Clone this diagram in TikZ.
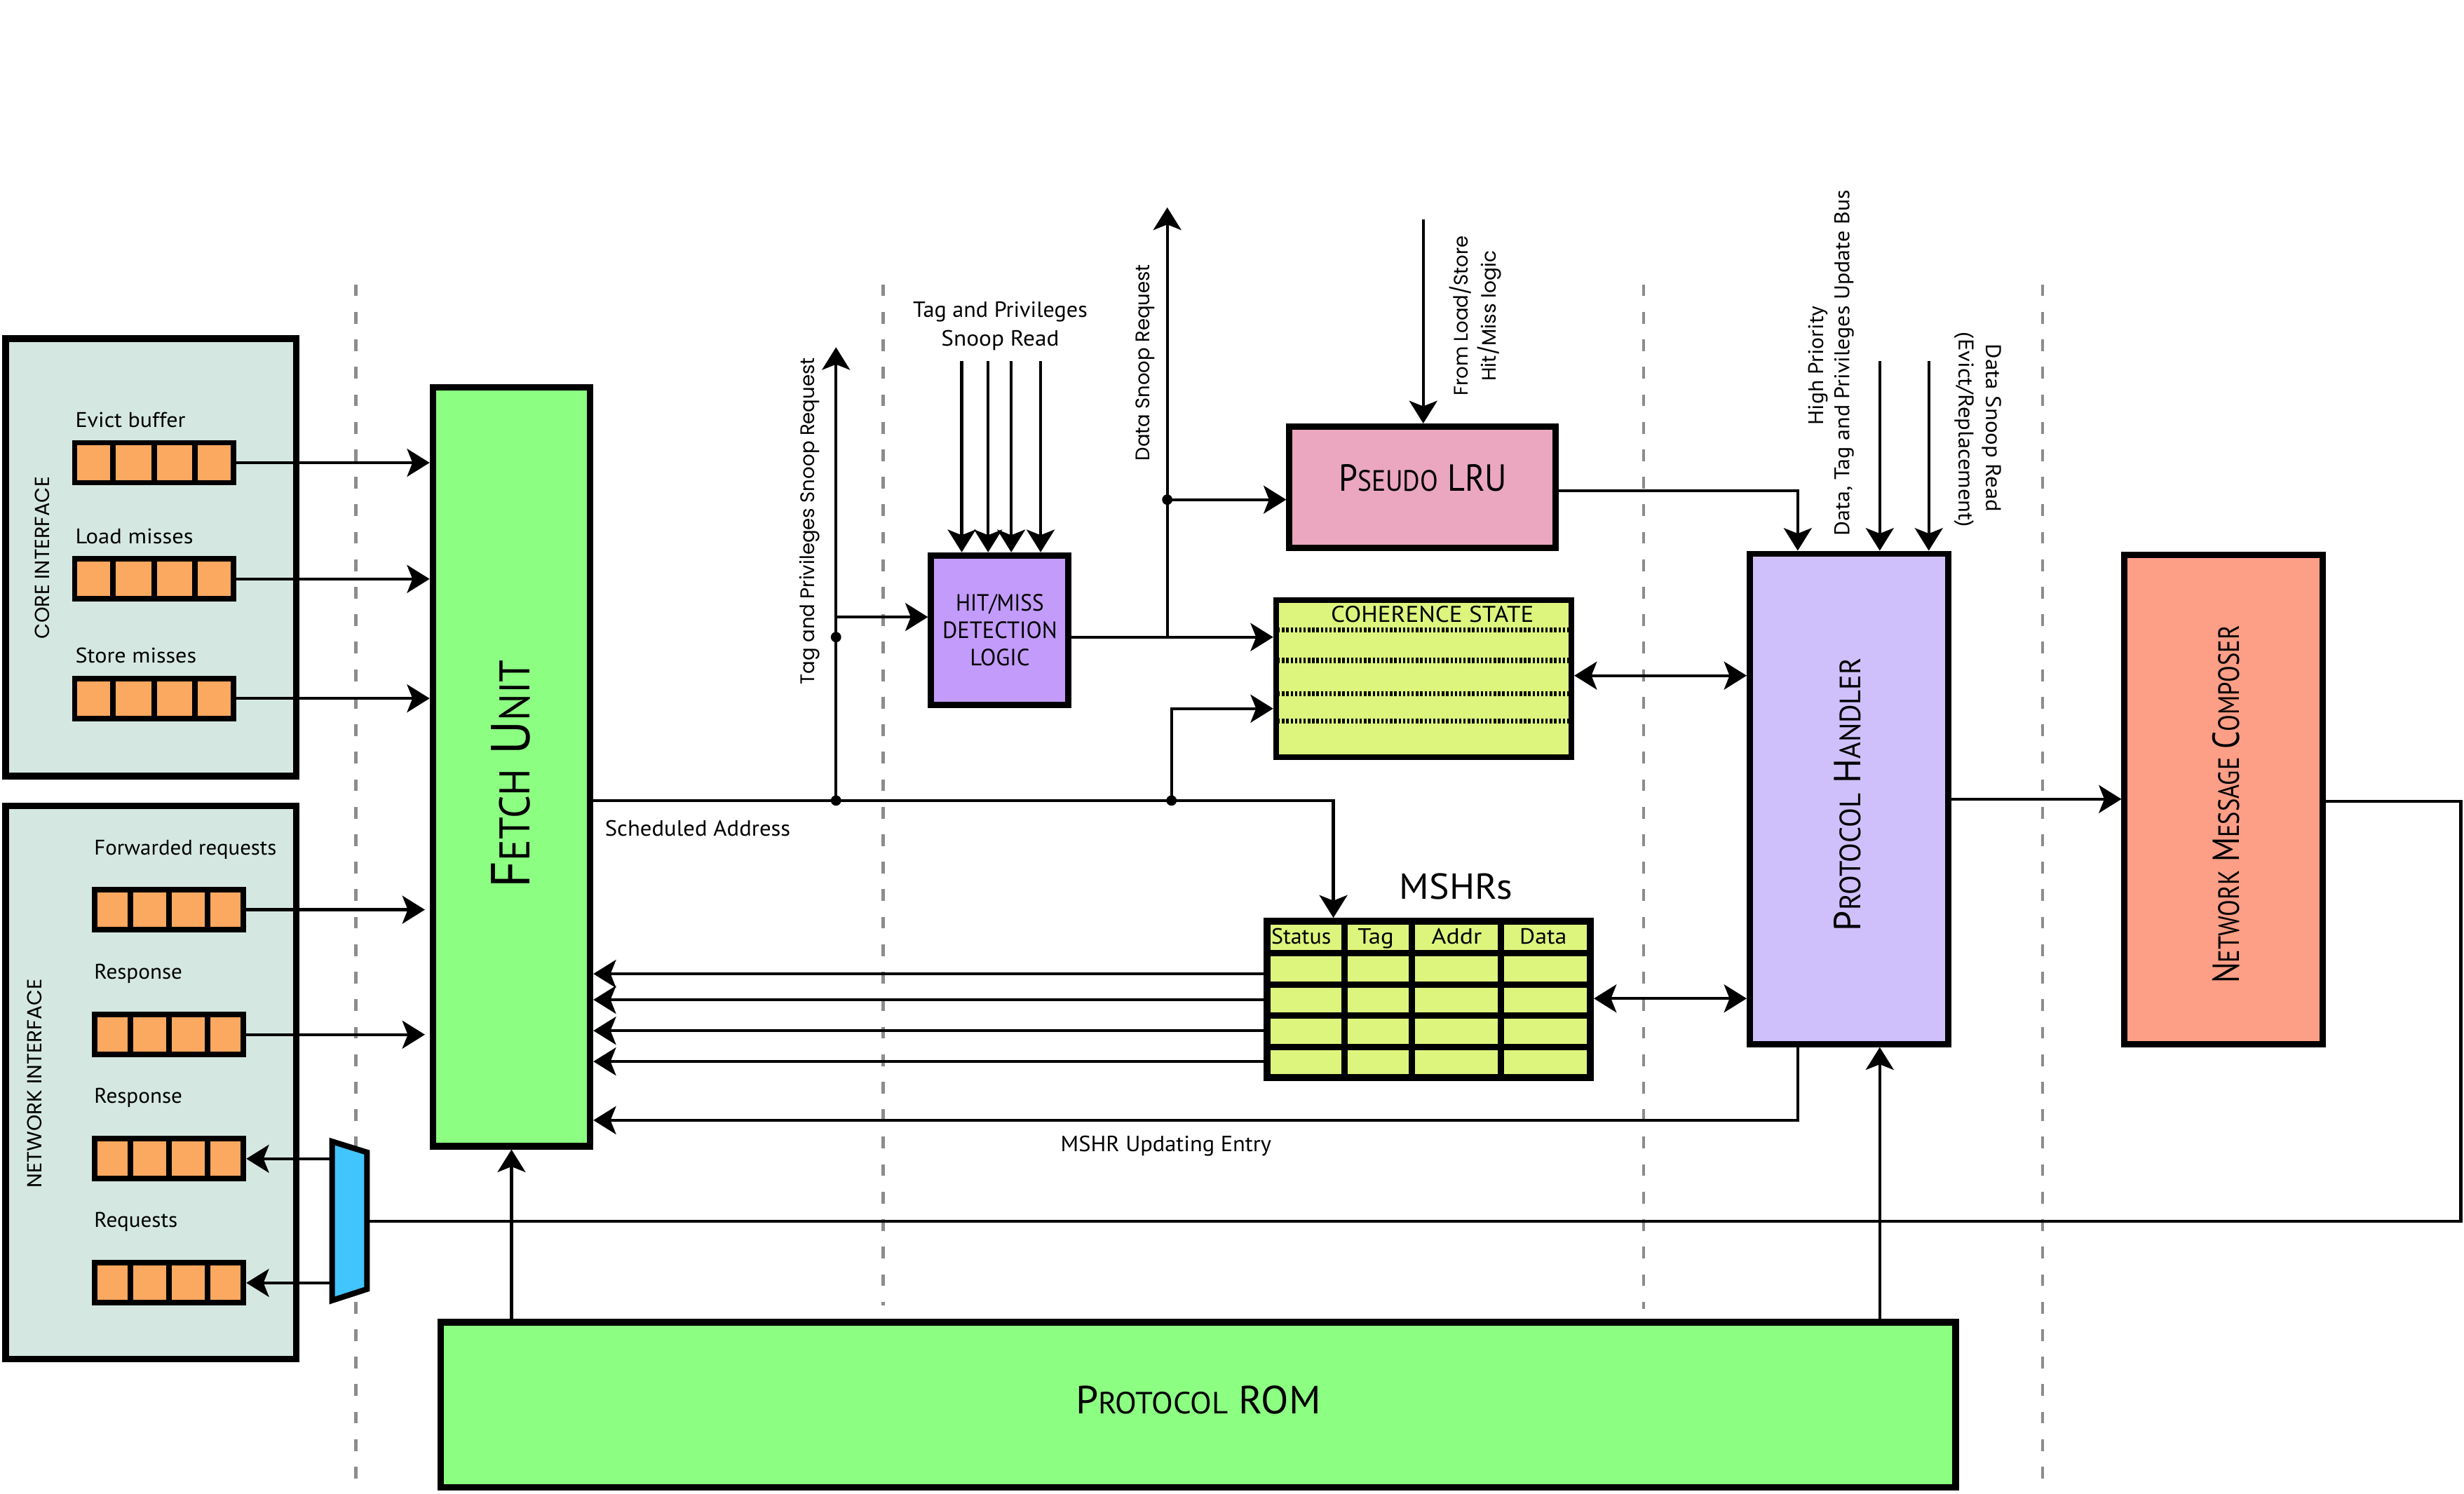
\documentclass[tikz,border=0pt]{standalone}
\usepackage{fontspec}
\setmainfont{PT Sans}
\newfontfamily\geo{Poppins}
\usetikzlibrary{arrows.meta,calc}
\definecolor{ifbg}{HTML}{D5E7E1}
\definecolor{qorange}{HTML}{FBA860}
\definecolor{fgreen}{HTML}{8CFE82}
\definecolor{hmpurple}{HTML}{C39BFB}
\definecolor{lrupink}{HTML}{EAA7BF}
\definecolor{cyellow}{HTML}{DDF47D}
\definecolor{phlav}{HTML}{CFC0FB}
\definecolor{nmcsalmon}{HTML}{FD9E86}
\definecolor{muxblue}{HTML}{42C4FC}
\definecolor{dashgray}{HTML}{8C8C8C}
\newcommand\tw[2]{\resizebox{#1pt}{\height}{#2}}
\newcommand\smc[2]{#1\scalebox{0.78}{#2}}
\newcommand\fs[1]{\fontsize{#1}{#1}\selectfont}
\begin{document}
\begin{tikzpicture}[x=1pt,y=-1pt,
  box/.style={draw, inner sep=0pt},
  queue/.style={draw, line width=3.5pt, fill=qorange, inner sep=0pt},
  txt/.style={inner sep=0pt, outer sep=0pt},
  conn/.style={line width=1.9pt},
  arr/.style={conn, -{Stealth[length=14.4pt,width=17.8pt,inset=3.5pt]}},
  darr/.style={conn, {Stealth[length=14.4pt,width=17.8pt,inset=3.5pt]}-{Stealth[length=14.4pt,width=17.8pt,inset=3.5pt]}},
  dashline/.style={draw=dashgray, line width=2pt, dash pattern=on 7.5pt off 10pt},
  dotrow/.style={line width=3.3pt, dash pattern=on 1.5pt off 1.25pt},
  grid/.style={line width=4pt}]
\useasboundingbox (0,0) rectangle (1568,950.5);

% dashed separators
\foreach \xx/\yb in {226.5/945, 562/831, 1046/833, 1299.7/945}
  \draw[dashline] (\xx,181) -- (\xx,\yb);

% interface boxes
\node[box, fill=ifbg, line width=4.2pt, minimum width=185pt, minimum height=278.5pt] (core) at (96,354.75) {};
\node[box, fill=ifbg, line width=4.2pt, minimum width=185pt, minimum height=352pt] (net) at (96,689) {};

% queues
\node[queue, minimum width=101pt, minimum height=25.4pt] (qev) at (98,294.5) {};
\node[queue, minimum width=101pt, minimum height=25.4pt] (qld) at (98,368.5) {};
\node[queue, minimum width=101pt, minimum height=25.4pt] (qst) at (98,444.5) {};
\node[queue, minimum width=94.8pt, minimum height=25.4pt] (qfw) at (107.6,579) {};
\node[queue, minimum width=94.8pt, minimum height=25.4pt] (qr1) at (107.6,658.5) {};
\node[queue, minimum width=94.8pt, minimum height=25.4pt] (qr2) at (107.6,737.5) {};
\node[queue, minimum width=94.8pt, minimum height=25.4pt] (qrq) at (107.6,816.5) {};
\foreach \q in {qev,qld,qst,qfw,qr1,qr2,qrq}
  \foreach \f in {0.25,0.5,0.75}
    \draw[line width=3.5pt] ($(\q.north west)!\f!(\q.north east)$) -- ($(\q.south west)!\f!(\q.south east)$);

% main blocks
\node[box, fill=fgreen, line width=4.2pt, minimum width=100pt, minimum height=483pt] (fetch) at (325.5,488) {};
\node[box, fill=fgreen, line width=4.2pt, minimum width=964pt, minimum height=105pt] (rom) at (762.5,894) {};
\node[box, fill=hmpurple, line width=4pt, minimum width=87.5pt, minimum height=95pt, align=center, font=\fontsize{15}{17.5}\selectfont] (hm) at (636.25,401)
  {\tw{56}{HIT/MISS}\\\tw{73}{DETECTION}\\\tw{38}{LOGIC}};
\node[box, fill=lrupink, line width=4pt, minimum width=169.5pt, minimum height=77pt] (lru) at (905.25,310) {};
\node[box, fill=cyellow, line width=3.6pt, minimum width=188pt, minimum height=100pt] (coh) at (906,432) {};
\node[box, fill=phlav, line width=4pt, minimum width=126.5pt, minimum height=312pt] (ph) at (1176.75,508.5) {};
\node[box, fill=nmcsalmon, line width=4pt, minimum width=126pt, minimum height=311.5pt] (nmc) at (1415,508.75) {};
\node[box, fill=cyellow, line width=4.5pt, minimum width=205.6pt, minimum height=99.6pt] (mshr) at (909.2,636.2) {};
\foreach \xx in {855.4,898.6,955.3} \draw[grid] (\xx,586.4) -- (\xx,686);
\foreach \yy in {606.5,626.5,646.3,666.4} \draw[grid] (806.4,\yy) -- (1012,\yy);

% coherence state rows
\foreach \yy in {401,420.4,441.5,459} \draw[dotrow] (813,\yy) -- (998,\yy);

% mux
\draw[line width=3.6pt, fill=muxblue, line join=miter] (211.3,726.5) -- (233.5,733.4) -- (233.5,820.5) -- (211.3,827.7) -- cycle;
\coordinate (muxR) at (235.3,777.3);
\coordinate (muxL) at (209.5,777.3);

% connectors: queues to fetch
\draw[arr] (qev.east) -- (qev.east -| fetch.west);
\draw[arr] (qld.east) -- (qld.east -| fetch.west);
\draw[arr] (qst.east) -- (qst.east -| fetch.west);
\draw[arr, shorten >=3pt] (qfw.east) -- (qfw.east -| fetch.west);
\draw[arr, shorten >=3pt] (qr1.east) -- (qr1.east -| fetch.west);
\draw[arr] (qr2.east -| muxL) -- (qr2.east);
\draw[arr] (qrq.east -| muxL) -- (qrq.east);

% ROM connections
\draw[arr] (fetch.south |- rom.north) -- (fetch.south);
\draw[arr] (rom.north -| 1196.2,0) -- (ph.south -| 1196.2,0);

% MSHR updating entry
\draw[arr] (ph.south -| 1144,0) -- (1144,713) -- (fetch.east |- 0,713);
\foreach \yy in {619.8,636.3,656,675.6}
  \draw[arr] (mshr.west |- 0,\yy) -- (fetch.east |- 0,\yy);
\draw[darr] (mshr.east |- 0,635.5) -- (ph.west |- 0,635.5);

% scheduled address
\draw[arr] (fetch.east |- 0,509.5) -- (848.5,509.5) -- (mshr.north -| 848.5,0);
\coordinate (tpsr) at (532,221);
\draw[arr] (532,509.5) -- (tpsr);
\draw[arr] (532,392.7) -- (hm.west |- 0,392.7);
\fill (532,509.5) circle[radius=3.3pt];
\fill (532,405.5) circle[radius=3.3pt];
\draw[arr] (745.5,509.5) -- (745.5,451) -- (coh.west |- 0,451);
\fill (745.5,509.5) circle[radius=3.3pt];

% snoop read inputs
\foreach \xx in {612,628.8,643.5,662.2}
  \draw[arr] (\xx,230) -- (hm.north -| \xx,0);

% hit/miss output and data snoop
\draw[arr] (hm.east |- 0,405.5) -- (coh.west |- 0,405.5);
\coordinate (dsr) at (742.8,132);
\draw[arr] (742.8,405.5) -- (dsr);
\draw[arr] (742.8,318) -- (lru.west |- 0,318);
\fill (742.8,318) circle[radius=3.3pt];

% pseudo LRU
\coordinate (fls) at (905.7,139.5);
\draw[arr] (fls) -- (lru.north -| fls);
\draw[arr] (lru.east |- 0,312.4) -- (1144,312.4) -- (ph.north -| 1144,0);

% protocol handler inputs
\coordinate (hpin) at (1196.2,229.8);
\coordinate (dsin) at (1227.4,229.8);
\draw[arr] (hpin) -- (ph.north -| hpin);
\draw[arr] (dsin) -- (ph.north -| dsin);
\draw[darr] (coh.east |- 0,430) -- (ph.west |- 0,430);
\draw[arr] (ph.east |- 0,508.6) -- (nmc.west |- 0,508.6);
\draw[conn] (nmc.east |- 0,510) -- (1566,510) -- (1566,777.3) -- (muxR);

% labels
\node[txt, anchor=base west, font=\fs{13.5}] (lev) at (48,272) {\tw{70}{Evict buffer}};
\node[txt, anchor=base west, font=\fs{13.5}] (lld) at (48,346) {\tw{75}{Load misses}};
\node[txt, anchor=base west, font=\fs{13.5}] (lst) at (48,422) {\tw{77}{Store misses}};
\node[txt, anchor=base west, font=\fs{13.5}] (lfw) at (60,544) {\tw{116}{Forwarded requests}};
\node[txt, anchor=base west, font=\fs{13.5}] (lr1) at (60,623) {\tw{56}{Response}};
\node[txt, anchor=base west, font=\fs{13.5}] (lr2) at (60,702) {\tw{56}{Response}};
\node[txt, anchor=base west, font=\fs{13.5}] (lrq) at (60,781) {\tw{53}{Requests}};
\node[txt, rotate=90, font=\geo\fs{13}] (lcore) at (27,355) {\tw{103}{CORE INTERFACE}};
\node[txt, rotate=90, font=\geo\fs{13}] (lnet) at (22,689.5) {\tw{133}{NETWORK INTERFACE}};

\node[txt, anchor=base west, font=\fs{14}] (lsa) at (385,532) {\tw{118}{Scheduled Address}};
\node[txt, anchor=base west, font=\fs{14}] (lmu) at (675,733) {\tw{134}{MSHR Updating Entry}};
\node[txt, anchor=base, font=\fs{14}] (ltp1) at (636.5,202) {\tw{111}{Tag and Privileges}};
\node[txt, anchor=base, font=\fs{14}] (ltp2) at (636.5,220) {\tw{75}{Snoop Read}};
\node[txt, anchor=base, font=\fs{14.5}] (lcoh) at (911.5,396) {\tw{129}{COHERENCE STATE}};
\node[txt, anchor=base, font=\fs{14}] (ms1) at (828,601) {\tw{38}{Status}};
\node[txt, anchor=base, font=\fs{14}] (ms2) at (875.5,601) {\tw{23}{Tag}};
\node[txt, anchor=base, font=\fs{14}] (ms3) at (927,601) {\tw{32}{Addr}};
\node[txt, anchor=base, font=\fs{14}] (ms4) at (982,601) {\tw{30}{Data}};
\node[txt, anchor=base, font=\fs{23}] (lmshr) at (926.6,572.4) {\tw{72}{MSHRs}};
\node[txt, anchor=base, font=\fs{24}] (llru) at (905.5,312.4) {\tw{107}{\smc{P}{SEUDO} LRU}};
\node[txt, anchor=base, font=\fs{25}] (lrom) at (762.5,900) {\tw{156}{\smc{P}{ROTOCOL} ROM}};
\node[txt, rotate=90, font=\fs{35}] (lfetch) at (325,492.5) {\tw{145}{\smc{F}{ETCH} \smc{U}{NIT}}};
\node[txt, rotate=90, font=\fs{24}] (lph) at (1175.6,505.6) {\tw{174}{\smc{P}{ROTOCOL} \smc{H}{ANDLER}}};
\node[txt, rotate=90, font=\fs{24}] (lnmc) at (1416.6,512) {\tw{228}{\smc{N}{ETWORK} \smc{M}{ESSAGE} \smc{C}{OMPOSER}}};
\node[txt, rotate=90, font=\geo\fs{12.5}] (ltpsr) at (515.4,331.6) {\tw{208}{Tag and Privileges Snoop Request}};
\node[txt, rotate=90, font=\geo\fs{12.5}] (ldsr) at (728.7,230.8) {\tw{125}{Data Snoop Request}};
\node[txt, rotate=90, font=\geo\fs{12.5}] (lfl1) at (929.5,201) {\tw{102}{From Load/Store}};
\node[txt, rotate=90, font=\geo\fs{12.5}] (lfl2) at (947.7,201) {\tw{83}{Hit/Miss logic}};
\node[txt, rotate=90, font=\fs{13.5}] (lhp1) at (1156.8,232.7) {\tw{76}{High Priority}};
\node[txt, rotate=90, font=\fs{13.5}] (lhp2) at (1173.5,231) {\tw{220}{Data, Tag and Privileges Update Bus}};
\node[txt, rotate=-90, font=\fs{13.5}] (lds1) at (1267.3,272.5) {\tw{107}{Data Snoop Read}};
\node[txt, rotate=-90, font=\fs{13.5}] (lds2) at (1249.8,273.5) {\tw{124}{(Evict/Replacement)}};
\end{tikzpicture}
\end{document}
